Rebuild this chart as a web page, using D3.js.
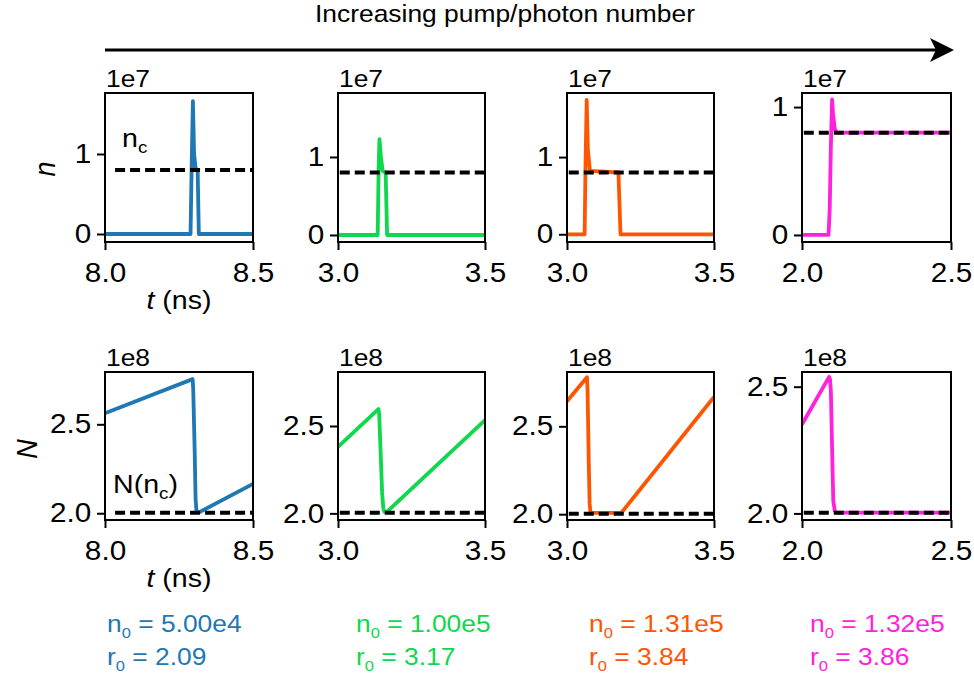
<html>
<head>
<script src="https://d3js.org/d3.v7.min.js"></script>
<style>
  body { margin: 0; background: white; }
  svg text { font-family: "Liberation Sans", Arial, sans-serif; fill: black; }
</style>
</head>
<body>
<svg id="chart" width="974" height="679"></svg>
<script>
// ---- data ----
// photon number n (units of 1e7) vs t (ns)
const tN1 = [8.0, 8.289, 8.293, 8.297, 8.301, 8.306, 8.313, 8.317, 8.5];
const nN1 = [0, 0, 0.9, 1.66, 1.0, 0.82, 0.8, 0, 0];
const tN2 = [3.0, 3.135, 3.138, 3.141, 3.146, 3.152, 3.162, 3.167, 3.5];
const nN2 = [0, 0, 0.8, 1.23, 1.0, 0.82, 0.8, 0, 0];
const tN3 = [3.0, 3.060, 3.063, 3.067, 3.071, 3.078, 3.175, 3.182, 3.5];
const nN3 = [0, 0, 0.9, 1.74, 1.1, 0.82, 0.8, 0, 0];
const tN4 = [2.0, 2.089, 2.093, 2.097, 2.101, 2.104, 2.110, 2.117, 2.5];
const nN4 = [0, 0, 0.2, 0.7, 1.06, 0.95, 0.83, 0.8, 0.8];

// carrier number N (units of 1e8) vs t (ns)
const tC1 = [8.0, 8.296, 8.298, 8.303, 8.306, 8.309, 8.314, 8.321, 8.5];
const nC1 = [2.562, 2.754, 2.70, 2.35, 2.08, 2.015, 2.005, 2.008, 2.165];
const tC2 = [3.0, 3.1375, 3.140, 3.145, 3.150, 3.154, 3.158, 3.166, 3.5];
const nC2 = [2.381, 2.597, 2.57, 2.35, 2.12, 2.03, 2.008, 2.008, 2.534];
const tC3 = [3.0, 3.068, 3.070, 3.074, 3.077, 3.080, 3.185, 3.5];
const nC3 = [2.643, 2.779, 2.70, 2.30, 2.06, 2.008, 2.008, 2.667];
const tC4 = [2.0, 2.091, 2.094, 2.097, 2.102, 2.105, 2.110, 2.115, 2.5];
const nC4 = [2.351, 2.539, 2.53, 2.48, 2.20, 2.05, 2.01, 2.003, 2.003];

const nc = 0.8;      // n_c, 1e7
const Nnc = 2.003;   // N(n_c), 1e8

const xDomains = [[8.0, 8.5], [3.0, 3.5], [3.0, 3.5], [2.0, 2.5]];
const xTickLabels = [["8.0", "8.5"], ["3.0", "3.5"], ["3.0", "3.5"], ["2.0", "2.5"]];
const nDomains = [[-0.1, 1.7625], [-0.09, 1.82], [-0.1, 1.83], [-0.055, 1.11]];
const NDomains = [[1.962, 2.794], [1.962, 2.809], [1.967, 2.809], [1.974, 2.558]];
const nTicks = [0, 1];
const NTicks = [2.0, 2.5];
const n0Labels = ["5.00e4", "1.00e5", "1.31e5", "1.32e5"];
const r0Labels = ["2.09", "3.17", "3.84", "3.86"];
const colors = ["#1f77b4", "#0fd84c", "#ff5500", "#ff22dd"];

const nSeries = [[tN1, nN1], [tN2, nN2], [tN3, nN3], [tN4, nN4]];
const NSeries = [[tC1, nC1], [tC2, nC2], [tC3, nC3], [tC4, nC4]];

// ---- layout ----
const SX = 1.1; // text in the original is a little wide
const colLeft = [105, 338, 567, 802];
const colRight = [253, 485, 714, 951];
const rowTop = [93, 372];
const rowBottom = [242, 520];
const labelX = [107, 356, 589, 810];
const font = "'Liberation Sans', Arial, sans-serif";

const svg = d3.select("#chart");

function stext(g, x, y, size, anchor) {
  return g.append("text")
    .attr("transform", "translate(" + x + "," + y + ") scale(" + SX + ",1)")
    .attr("font-size", size)
    .attr("text-anchor", anchor || "start");
}

// title + arrow
stext(svg, 505, 22, 24, "middle").text("Increasing pump/photon number");
svg.append("line")
  .attr("x1", 105).attr("x2", 940).attr("y1", 50).attr("y2", 50)
  .attr("stroke", "black").attr("stroke-width", 3);
svg.append("path")
  .attr("d", "M954,50 L930,38 L936,50 L930,62 Z")
  .attr("fill", "black");

function drawPanel(col, row) {
  const left = colLeft[col], right = colRight[col];
  const top = rowTop[row], bottom = rowBottom[row];
  const x = d3.scaleLinear().domain(xDomains[col]).range([left, right]);
  const y = d3.scaleLinear()
    .domain(row === 0 ? nDomains[col] : NDomains[col])
    .range([bottom, top]);
  const series = row === 0 ? nSeries[col] : NSeries[col];
  const pts = d3.zip(series[0], series[1]);
  const g = svg.append("g");

  const clipId = "clip" + row + col;
  g.append("clipPath").attr("id", clipId)
    .append("rect").attr("x", left).attr("y", top)
    .attr("width", right - left).attr("height", bottom - top);

  const line = d3.line().x(d => x(d[0])).y(d => y(d[1]));
  g.append("path")
    .datum(pts)
    .attr("d", line)
    .attr("clip-path", "url(#" + clipId + ")")
    .attr("fill", "none")
    .attr("stroke", colors[col])
    .attr("stroke-width", 3.8)
    .attr("stroke-linejoin", "round");

  // threshold
  const level = row === 0 ? nc : Nnc;
  const x0 = col === 0 ? xDomains[col][0] + 0.034 : xDomains[col][0] + 0.006;
  g.append("line")
    .attr("x1", x(x0)).attr("x2", x(xDomains[col][1]))
    .attr("y1", y(level)).attr("y2", y(level))
    .attr("clip-path", "url(#" + clipId + ")")
    .attr("stroke", "black")
    .attr("stroke-width", 4)
    .attr("stroke-dasharray", "10,5");

  // frame
  g.append("rect")
    .attr("x", left).attr("y", top)
    .attr("width", right - left).attr("height", bottom - top)
    .attr("fill", "none").attr("stroke", "black").attr("stroke-width", 2);

  // axes
  const ticksY = row === 0 ? nTicks : NTicks;
  const yAxis = d3.axisLeft(y).tickValues(ticksY).tickSize(8).tickPadding(4.5)
    .tickFormat(row === 0 ? d3.format("d") : d3.format(".1f"));
  const ga = g.append("g").attr("transform", "translate(" + left + ",0)").call(yAxis);
  const xAxis = d3.axisBottom(x).tickValues(xDomains[col]).tickSize(8).tickPadding(13)
    .tickFormat((d, i) => xTickLabels[col][i]);
  const gb = g.append("g").attr("transform", "translate(0," + bottom + ")").call(xAxis);
  [ga, gb].forEach(a => {
    a.select(".domain").remove();
    a.selectAll(".tick line").attr("stroke-width", 2);
    a.selectAll(".tick text")
      .attr("font-size", 27)
      .attr("font-family", font)
      .attr("fill", "black")
      .attr("transform", "scale(" + SX + ",1)");
  });

  // offset text
  stext(g, left + 1, top - 6, 24).text(row === 0 ? "1e7" : "1e8");

  if (col === 0) {
    const xl = stext(g, (left + right) / 2, bottom + 67, 26, "middle");
    xl.append("tspan").attr("font-style", "italic").text("t");
    xl.append("tspan").text(" (ns)");

    g.append("text")
      .attr("transform", row === 0
        ? "translate(55,169) scale(" + SX + ",1) rotate(-90)"
        : "translate(37,449) scale(" + SX + ",1) rotate(-90)")
      .attr("font-size", 27)
      .attr("font-style", "italic")
      .attr("text-anchor", "middle")
      .text(row === 0 ? "n" : "N");

    if (row === 0) {
      const t = stext(g, left + 17, top + 54, 26);
      t.append("tspan").text("n");
      t.append("tspan").attr("font-size", 17).attr("dy", 6).text("c");
    } else {
      const t = stext(g, left + 8, top + 121, 26);
      t.append("tspan").text("N(n");
      t.append("tspan").attr("font-size", 17).attr("dy", 6).text("c");
      t.append("tspan").attr("dy", -6).text(")");
    }
  }
}

for (let row = 0; row < 2; row++) {
  for (let col = 0; col < 4; col++) drawPanel(col, row);
}

// parameter labels
for (let col = 0; col < 4; col++) {
  const a = stext(svg, labelX[col], 632, 24).attr("fill", colors[col]);
  a.append("tspan").attr("fill", colors[col]).text("n");
  a.append("tspan").attr("fill", colors[col]).attr("font-size", 15).attr("dy", 6).text("0");
  a.append("tspan").attr("fill", colors[col]).attr("dy", -6).text(" = " + n0Labels[col]);
  const b = stext(svg, labelX[col], 665, 24).attr("fill", colors[col]);
  b.append("tspan").attr("fill", colors[col]).text("r");
  b.append("tspan").attr("fill", colors[col]).attr("font-size", 15).attr("dy", 6).text("0");
  b.append("tspan").attr("fill", colors[col]).attr("dy", -6).text(" = " + r0Labels[col]);
}
</script>
</body>
</html>
